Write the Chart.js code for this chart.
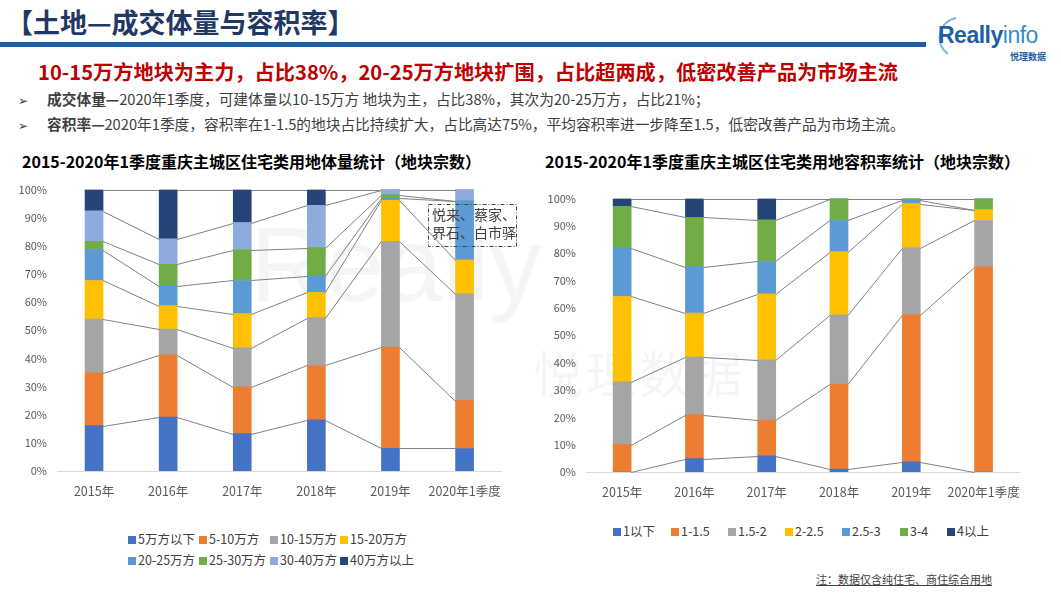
<!DOCTYPE html>
<html>
<head>
<meta charset="utf-8">
<script src="https://cdn.jsdelivr.net/npm/chart.js@4.4.0/dist/chart.umd.min.js"></script>
<style>
body{margin:0;width:1061px;height:598px;position:relative;overflow:hidden;background:#fff;font-family:"Noto Sans CJK SC","Noto Sans",sans-serif;color:#404040;}
.abs{position:absolute;white-space:nowrap;}
.box{position:absolute;}
.lg{position:absolute;font-size:12.5px;color:#404040;white-space:nowrap;line-height:14px;}
.lg i{display:inline-block;width:8px;height:8px;margin-right:2px;vertical-align:0px;}
</style>
</head>
<body>
<!-- 水印 -->
<div class="abs" style="left:250px;top:205px;font-family:'Liberation Sans';font-size:105px;color:rgba(0,0,0,0.04);">Really</div>
<div class="abs" style="left:533px;top:335px;font-size:50px;letter-spacing:3px;color:rgba(0,0,0,0.04);">悦理数据</div>

<!-- 页头 -->
<div class="abs" style="left:6px;top:2px;font-size:27px;font-weight:bold;color:#1f3864;">【土地—成交体量与容积率】</div>
<div class="abs" style="left:0;top:42px;width:926px;height:5px;background:#1f5fa5;"></div>
<svg class="abs" style="left:926px;top:14px;" width="40" height="44"><path d="M30 4 A20 20 0 0 0 22 40" fill="none" stroke="#7fb8e0" stroke-width="2"/></svg>
<div class="abs" style="left:938px;top:22px;font-family:'Liberation Sans';font-size:23px;font-weight:bold;color:#1f5fa5;letter-spacing:-0.5px;">Really<span style="color:#2f8fd0;font-weight:normal;">info</span></div>
<div class="abs" style="left:1010px;top:50px;font-size:9px;font-weight:bold;color:#1f5fa5;">悦理数据</div>

<div class="abs" style="left:38px;top:57px;font-size:20.2px;font-weight:bold;color:#c00000;">10-15万方地块为主力，占比38%，20-25万方地块扩围，占比超两成，低密改善产品为市场主流</div>
<div class="abs" style="left:18px;top:88px;font-size:14.7px;color:#404040;"><span style="font-family:'DejaVu Sans';font-size:12px;margin-right:19px;">➢</span><b>成交体量—</b>2020年1季度，可建体量以10-15万方 地块为主，占比38%，其次为20-25万方，占比21%；</div>
<div class="abs" style="left:18px;top:113px;font-size:14.7px;color:#404040;"><span style="font-family:'DejaVu Sans';font-size:12px;margin-right:19px;">➢</span><b>容积率—</b>2020年1季度，容积率在1-1.5的地块占比持续扩大，占比高达75%，平均容积率进一步降至1.5，低密改善产品为市场主流。</div>

<div class="abs" style="left:22px;top:149px;font-size:16px;font-weight:bold;color:#000;">2015-2020年1季度重庆主城区住宅类用地体量统计（地块宗数）</div>
<div class="abs" style="left:545px;top:149px;font-size:16px;font-weight:bold;color:#000;">2015-2020年1季度重庆主城区住宅类用地容积率统计（地块宗数）</div>

<div class="box" style="left:0;top:173px;width:506px;height:331px;"><canvas id="volChart"></canvas></div>
<div class="box" style="left:530px;top:182px;width:495px;height:323px;"><canvas id="farChart"></canvas></div>

<svg class="abs" style="left:428px;top:204px;" width="90" height="44">
  <rect x="0.5" y="0.5" width="88" height="42" fill="none" stroke="#404040" stroke-width="1" stroke-dasharray="4 2 1 2"/>
</svg>
<div class="abs" style="left:432px;top:205px;font-size:14px;line-height:18px;color:#404040;">悦来、蔡家、<br>界石、白市驿</div>

<div id="volLegend"></div>
<div id="farLegend"></div>

<div class="abs" style="left:816px;top:571px;font-size:11px;color:#404040;text-decoration:underline;">注：数据仅含纯住宅、商住综合用地</div>

<script>
// 类别
const years = ['2015年', '2016年', '2017年', '2018年', '2019年', '2020年1季度'];

// 体量统计（占比 %）
const volNames = ['5万方以下', '5-10万方', '10-15万方', '15-20万方', '20-25万方', '25-30万方', '30-40万方', '40万方以上'];
const volBelow5 = [16.1, 19.2, 13.3, 18.2, 8.1, 8];
const vol5to10 = [18.8, 22.1, 16.6, 19.3, 35.9, 17];
const vol10to15 = [19.1, 9.1, 13.9, 17.0, 37.6, 38];
const vol15to20 = [13.7, 8.4, 12.1, 9.0, 14.6, 12];
const vol20to25 = [11.0, 7.1, 11.8, 5.9, 0.9, 21];
const vol25to30 = [2.9, 7.5, 11.0, 10.0, 1.1, 0];
const vol30to40 = [10.9, 9.1, 9.6, 15.0, 1.8, 4];
const volAbove40 = [7.5, 17.5, 11.7, 5.6, 0, 0];

// 容积率统计（占比 %）
const farNames = ['1以下', '1-1.5', '1.5-2', '2-2.5', '2.5-3', '3-4', '4以上'];
const farBelow1 = [0, 4.9, 5.9, 1.1, 3.7, 0];
const far1to15 = [10, 16.1, 13.1, 31.1, 53.8, 75];
const far15to2 = [23, 21, 22, 25.3, 24.6, 17];
const far2to25 = [31.2, 16.1, 24.2, 23.1, 16.1, 4];
const far25to3 = [17.8, 17, 11.8, 11.4, 1.2, 0];
const far3to4 = [15.2, 18, 15.2, 8, 0.6, 4];
const farAbove4 = [2.8, 6.9, 7.8, 0, 0, 0];

const yTicks = [0, 10, 20, 30, 40, 50, 60, 70, 80, 90, 100];

const volColors = ['#4472c4', '#ed7d31', '#a5a5a5', '#ffc000', '#5b9bd5', '#70ad47', '#8faadc', '#264478'];
const farColors = ['#4472c4', '#ed7d31', '#a5a5a5', '#ffc000', '#5b9bd5', '#70ad47', '#264478'];

// 系列线
const seriesLines = {
    id: 'seriesLines',
    afterDatasetsDraw(chart) {
        const ctx = chart.ctx;
        const y = chart.scales.y;
        const sets = chart.data.datasets;
        const bars = chart.getDatasetMeta(0).data;
        ctx.save();
        ctx.strokeStyle = '#808080';
        ctx.lineWidth = 1;
        for (let j = 0; j < bars.length - 1; j++) {
            const x1 = bars[j].x + bars[j].width / 2;
            const x2 = bars[j + 1].x - bars[j + 1].width / 2;
            let a = 0, b = 0;
            sets.forEach(ds => {
                a += ds.data[j];
                b += ds.data[j + 1];
                ctx.beginPath();
                ctx.moveTo(x1, Math.round(y.getPixelForValue(a)) + 0.5);
                ctx.lineTo(x2, Math.round(y.getPixelForValue(b)) + 0.5);
                ctx.stroke();
            });
        }
        ctx.restore();
    }
};

function makeChart(id, names, series, colors, yWidth, padTop) {
    return new Chart(document.getElementById(id), {
        type: 'bar',
        data: {
            labels: years,
            datasets: series.map((d, i) => ({
                label: names[i],
                data: d,
                backgroundColor: colors[i],
                borderWidth: 0,
                barThickness: 18
            }))
        },
        options: {
            responsive: true,
            maintainAspectRatio: false,
            animation: false,
            layout: { padding: { top: padTop, right: 4, left: 0, bottom: 0 } },
            plugins: { legend: { display: false }, tooltip: { enabled: false } },
            scales: {
                x: {
                    stacked: true,
                    grid: { display: false },
                    border: { display: true, color: '#d9d9d9' },
                    ticks: { color: '#595959', font: { size: 12.5, family: 'Noto Sans CJK SC' }, padding: 5, maxRotation: 0, autoSkip: false }
                },
                y: {
                    stacked: true,
                    min: 0,
                    max: 100,
                    grid: { display: false, drawTicks: false },
                    border: { display: false },
                    afterBuildTicks: s => { s.ticks = yTicks.map(v => ({ value: v })); },
                    afterFit: s => { s.width = yWidth; },
                    ticks: { color: '#595959', font: { size: 11, family: 'Noto Sans CJK SC' }, padding: 10, callback: v => v + '%' }
                }
            }
        },
        plugins: [seriesLines]
    });
}

makeChart('volChart', volNames,
    [volBelow5, vol5to10, vol10to15, vol15to20, vol20to25, vol25to30, vol30to40, volAbove40], volColors, 57, 6);
makeChart('farChart', farNames,
    [farBelow1, far1to15, far15to2, far2to25, far25to3, far3to4, farAbove4], farColors, 56, 6);

// 图例
function buildLegend(el, names, colors, positions) {
    el.innerHTML = names.map((n, i) =>
        `<div class="lg" style="left:${positions[i][0]}px;top:${positions[i][1]}px"><i style="background:${colors[i]}"></i>${n}</div>`
    ).join('');
}
buildLegend(document.getElementById('volLegend'), volNames, volColors,
    [[128, 532], [199, 532], [270, 532], [340, 532], [128, 553], [199, 553], [270, 553], [340, 553]]);
buildLegend(document.getElementById('farLegend'), farNames, farColors,
    [[613, 524], [671, 524], [728, 524], [785, 524], [842, 524], [900, 524], [947, 524]]);
</script>
</body>
</html>
